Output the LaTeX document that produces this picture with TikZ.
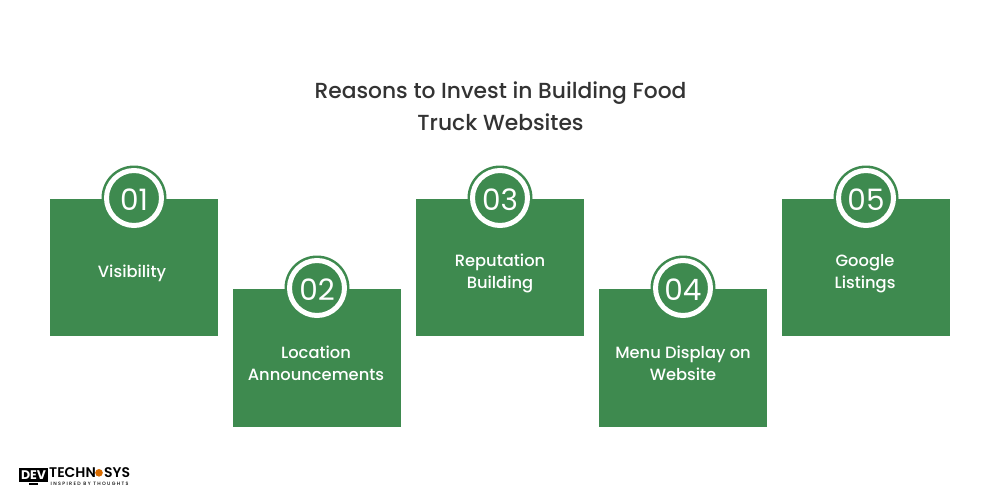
\documentclass[tikz,border=0pt]{standalone}
\usepackage{fontspec}
\setmainfont{Poppins}
\newfontfamily\taglinefont[LetterSpace=28]{Poppins Medium}
\definecolor{cardgreen}{HTML}{3E8A4F}
\definecolor{titleink}{HTML}{333333}
\tikzset{x=1pt,y=-1pt,
 card/.style={fill=cardgreen,draw=none,minimum width=168pt,minimum height=137.5pt,inner sep=0pt,outer sep=0pt},
 ring/.style={circle,fill=cardgreen,draw=none,minimum size=65pt,inner sep=0pt},
 whitering/.style={circle,draw=white,line width=5pt,minimum size=55pt,inner sep=0pt},
 lab/.style={text=white,align=center,font=\fontsize{16.3}{22}\selectfont\fontspec{Poppins Medium},inner sep=0pt},
}
\begin{document}
\begin{tikzpicture}
\useasboundingbox (0,0) rectangle (1000,500);
\fill[white] (0,0) rectangle (1000,500);
\node[text=titleink,align=center,font=\fontsize{21.8}{32}\selectfont\fontspec{Poppins Medium}] (title) at (500.5,106) {Reasons to Invest in Building Food\\Truck Websites};
\node[card] (c1) at (134,267.5) {};
\node[card] (c2) at (317,358) {};
\node[card] (c3) at (500,267.5) {};
\node[card] (c4) at (683,358) {};
\node[card] (c5) at (866,267.5) {};
\foreach \n/\x/\y/\t in {1/134/198/01,2/317/288/02,3/500/198/03,4/683/288/04,5/866/198/05}{
 \node[ring] (o\n) at (\x,\y) {};
 \node[whitering] (r\n) at (\x,\y) {};
 \node[text=white,inner sep=0pt,font=\fontsize{29.5}{30}\selectfont] (n\n) at (\x,\y+1.5) {\t};
}
\node[lab] (l1) at (132,273.5) {Visibility};
\node[lab] (l2) at (316,363.5) {Location\\Announcements};
\node[lab] (l3) at (500,273.5) {Reputation\\Building};
\node[lab] (l4) at (683,363.5) {Menu Display on\\Website};
\node[lab] (l5) at (865,273.5) {Google\\Listings};
% logo
\fill[black] (19,467.5) rectangle (48,482);
\fill[black] (29,483) rectangle (38,485);
\node[text=white,inner sep=0pt,font=\fontsize{12.5}{12}\selectfont\bfseries] (d) at (33.5,475) {DEV};
\node[text=black,inner sep=0pt,anchor=west,font=\fontsize{14}{12}\selectfont\fontspec{Poppins SemiBold}] (t1) at (49,472.8) {TECHN};
\fill[orange!85!black] (99,472.8) circle (3.8pt);
\node[text=black,inner sep=0pt,anchor=west,font=\fontsize{14}{12}\selectfont\fontspec{Poppins SemiBold}] (t2) at (104,472.8) {SYS};
\node[text=black,inner sep=0pt,anchor=west,font=\fontsize{4.8}{5}\selectfont\taglinefont] (t3) at (50.5,484) {INSPIRED BY THOUGHTS};
\end{tikzpicture}
\end{document}
